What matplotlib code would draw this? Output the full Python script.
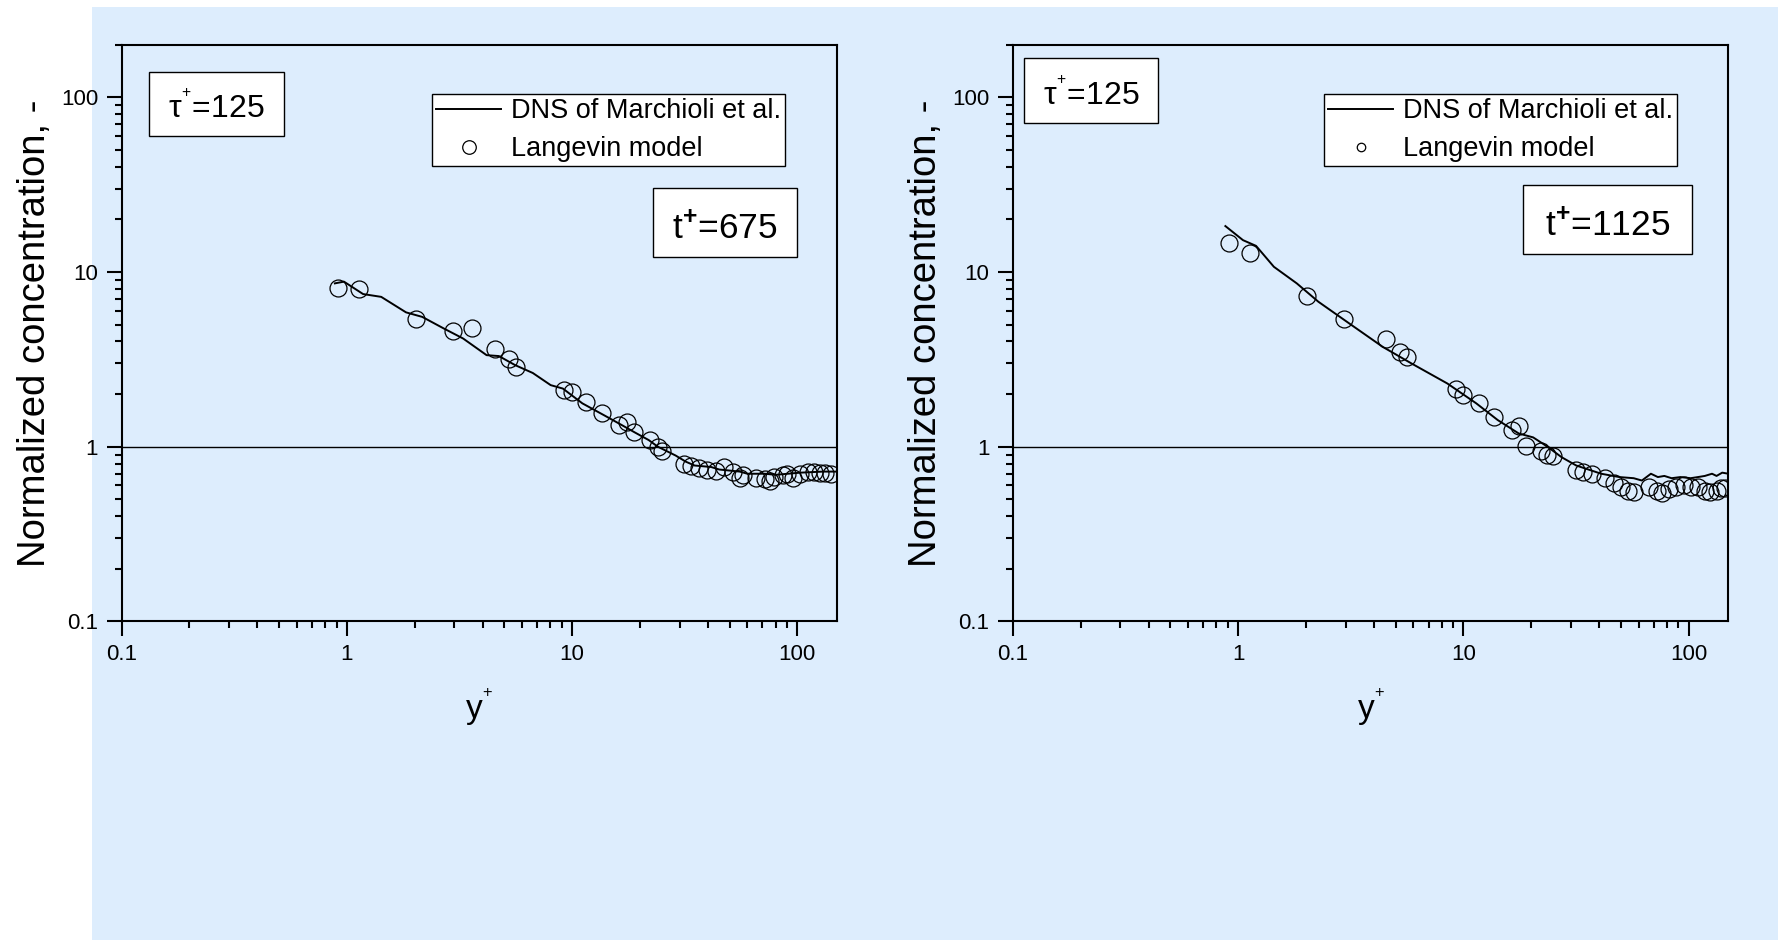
import matplotlib
matplotlib.use('Agg')
import matplotlib.pyplot as plt
from matplotlib.patches import Rectangle
from matplotlib.ticker import FixedLocator, FixedFormatter, LogLocator, NullFormatter

plt.rcParams['font.family'] = ['Liberation Sans', 'DejaVu Sans']
plt.rcParams['mathtext.fontset'] = 'custom'
plt.rcParams['mathtext.rm'] = 'Liberation Sans'
plt.rcParams['mathtext.it'] = 'Liberation Sans:italic'
plt.rcParams['mathtext.bf'] = 'Liberation Sans:bold'

# ---------------- data ----------------
tick_values = [0.1, 1, 10, 100]
tick_labels = ['0.1', '1', '10', '100']

legend_labels = ['DNS of Marchioli et al.', 'Langevin model']
tau_label = r'$\mathregular{\tau^{{}^{+}}}$=125'
tau_label_fallback = r'$\mathregular{\tau^{+}}$=125'
t_labels = [r'$\mathregular{t^{\mathbf{+}}}$=675', r'$\mathregular{t^{\mathbf{+}}}$=1125']
x_label = r'$\mathregular{y^{{}^{+}}}$'
x_label_fallback = r'$\mathregular{y^{+}}$'
y_label = 'Normalized concentration, -'

# panel 1 (t+ = 675)
x1_dns = [0.884, 0.97, 1.18, 1.42, 1.83, 2.16, 2.69, 3.28, 4.17, 4.73, 5.58, 6.69, 8.03, 9.1,
          11.1, 13.9, 16.6, 18.9, 21.9, 24.0, 28.8, 32.0, 35.0, 41.4, 45.0, 55.5, 60.0, 71.7,
          80.0, 103.0, 130.0, 147.0]
y1_dns = [8.6, 8.8, 7.47, 7.2, 5.87, 5.53, 4.75, 4.16, 3.34, 3.30, 2.93, 2.64, 2.25, 2.15,
          1.77, 1.51, 1.33, 1.21, 1.09, 1.0, 0.89, 0.82, 0.78, 0.765, 0.74, 0.72, 0.70, 0.70,
          0.69, 0.71, 0.72, 0.72]
x1_lv = [0.913, 1.137, 2.02, 2.95, 3.60, 4.53, 5.22, 5.64, 9.22, 10.0, 11.57, 13.63, 16.2, 17.5,
         18.8, 22.1, 24.0, 25.0, 31.5, 33.8, 36.5, 39.9, 43.7, 47.1, 51.6, 55.5, 57.5, 65.4,
         71.7, 75.6, 79.0, 86.0, 90.0, 96.0, 103.0, 111.0, 119.0, 126.0, 133.0, 141.0]
y1_lv = [8.05, 7.95, 5.37, 4.58, 4.75, 3.61, 3.16, 2.86, 2.11, 2.06, 1.79, 1.55, 1.33, 1.39,
         1.21, 1.09, 0.99, 0.95, 0.80, 0.78, 0.75, 0.74, 0.73, 0.765, 0.72, 0.66, 0.69, 0.66,
         0.65, 0.64, 0.67, 0.685, 0.70, 0.66, 0.70, 0.72, 0.72, 0.71, 0.71, 0.70]

# panel 2 (t+ = 1125)
x2_dns = [0.877, 1.05, 1.2, 1.44, 1.82, 2.27, 3.27, 4.39, 5.89, 8.48, 11.4, 14.2, 17.6, 20.4,
          23.6, 27.3, 31.7, 40.9, 49.2, 57.0, 62.0, 68.0, 73.0, 78.0, 84.0, 92.0, 102.0, 110.0,
          118.0, 127.0, 133.0, 141.0, 150.0]
y2_dns = [18.3, 15.2, 14.1, 10.7, 8.6, 6.75, 4.85, 3.72, 2.99, 2.30, 1.77, 1.42, 1.19, 1.13,
          1.0, 0.87, 0.78, 0.70, 0.67, 0.66, 0.64, 0.70, 0.67, 0.68, 0.66, 0.67, 0.66, 0.67,
          0.68, 0.70, 0.68, 0.71, 0.70]
x2_lv = [0.91, 1.13, 2.02, 2.96, 4.52, 5.23, 5.63, 9.3, 10.0, 11.7, 13.7, 16.4, 17.6, 19.0,
         22.0, 23.6, 24.9, 31.7, 34.1, 37.4, 42.5, 46.5, 50.0, 53.9, 57.0, 67.0, 72.0, 76.0,
         82.0, 88.0, 95.0, 102.0, 110.0, 118.0, 125.0, 133.0, 139.0, 145.0]
y2_lv = [14.6, 12.8, 7.3, 5.37, 4.13, 3.49, 3.24, 2.13, 1.97, 1.77, 1.48, 1.25, 1.31, 1.01,
         0.95, 0.90, 0.88, 0.74, 0.716, 0.70, 0.66, 0.62, 0.59, 0.56, 0.55, 0.59, 0.56, 0.54,
         0.575, 0.59, 0.60, 0.59, 0.59, 0.56, 0.55, 0.56, 0.58, 0.58]

# ---------------- layout ----------------
W, H = 1778, 940
fig = plt.figure(figsize=(W / 100, H / 100), dpi=100)
fig.patch.set_facecolor('white')
fig.patches.append(Rectangle((92 / W, 0), 1 - 92 / W, 933 / H, transform=fig.transFigure,
                             facecolor='#DDEDFD', edgecolor='none', zorder=-10))

panels = [
    dict(left=121.7, xd=x1_dns, yd=y1_dns, xl=x1_lv, yl=y1_lv, tlab=t_labels[0],
         tau_box=(0.0386, 0.8415, 0.2269, 0.953), t_box=(0.7432, 0.6312, 0.9437, 0.7509),
         leg=(0.4338, 0.9144), mscale=0.8),
    dict(left=1013.0, xd=x2_dns, yd=y2_dns, xl=x2_lv, yl=y2_lv, tlab=t_labels[1],
         tau_box=(0.0154, 0.864, 0.2028, 0.9768), t_box=(0.7126, 0.637, 0.9497, 0.7566),
         leg=(0.435, 0.9144), mscale=0.5),
]

ax_w, ax_h = 715.3, 576.8
ax_bottom_px = 621.4
tau_texts = []
xlab_texts = []

for p in panels:
    ax = fig.add_axes([p['left'] / W, (H - ax_bottom_px) / H, ax_w / W, ax_h / H])
    ax.set_facecolor('none')
    ax.set_xscale('log')
    ax.set_yscale('log')
    ax.set_xlim(0.1, 150)
    ax.set_ylim(0.1, 200)
    for axis in (ax.xaxis, ax.yaxis):
        axis.set_major_locator(FixedLocator(tick_values))
        axis.set_major_formatter(FixedFormatter(tick_labels))
        axis.set_minor_locator(LogLocator(base=10, subs=range(2, 10)))
        axis.set_minor_formatter(NullFormatter())
    ax.tick_params(which='major', direction='out', length=11, width=1.5, labelsize=16,
                   top=False, right=False)
    ax.tick_params(which='minor', direction='out', length=5, width=1.5, top=False, right=False)
    ax.tick_params(axis='x', which='major', pad=5)
    ax.tick_params(axis='y', which='major', pad=6)
    for s in ax.spines.values():
        s.set_linewidth(1.5)

    ax.axhline(1, color='black', lw=1.0, zorder=1)
    ax.plot(p['xd'], p['yd'], color='black', lw=1.4, label=legend_labels[0], zorder=3)
    ax.plot(p['xl'], p['yl'], linestyle='none', marker='o', markersize=12.2,
            markerfacecolor='none', markeredgecolor='black', markeredgewidth=0.9,
            label=legend_labels[1], zorder=4)

    leg = ax.legend(loc='upper left', bbox_to_anchor=p['leg'], bbox_transform=ax.transAxes,
                    fontsize=19.5, frameon=True, fancybox=False, edgecolor='black',
                    facecolor='white', framealpha=1, borderpad=0.15, labelspacing=0.45,
                    handlelength=2.4, handletextpad=0.35, borderaxespad=0,
                    markerscale=p['mscale'])
    leg.get_frame().set_linewidth(1.0)

    for (x0, y0, x1, y1), label, fs in ((p['tau_box'], tau_label, 23),
                                        (p['t_box'], p['tlab'], 25.5)):
        ax.add_patch(Rectangle((x0, y0), x1 - x0, y1 - y0, transform=ax.transAxes,
                               facecolor='white', edgecolor='black', lw=1.0, zorder=5,
                               clip_on=False))
        t = ax.text((x0 + x1) / 2, y0 + 18.5 / ax_h, label, transform=ax.transAxes,
                    ha='center', va='baseline', fontsize=fs, zorder=6)
        if label == tau_label:
            tau_texts.append(t)

    ax.set_ylabel(y_label, fontsize=27.5)
    ax.yaxis.set_label_coords(-0.096, 0.5)
    ax.set_xlabel(x_label, fontsize=24)
    ax.xaxis.set_label_coords(0.5, -0.112)
    xlab_texts.append(ax.xaxis.label)

try:
    fig.canvas.draw()
except Exception:
    for t in tau_texts:
        t.set_text(tau_label_fallback)
    for t in xlab_texts:
        t.set_text(x_label_fallback)

fig.savefig('out.png', dpi=100, facecolor=fig.get_facecolor())
